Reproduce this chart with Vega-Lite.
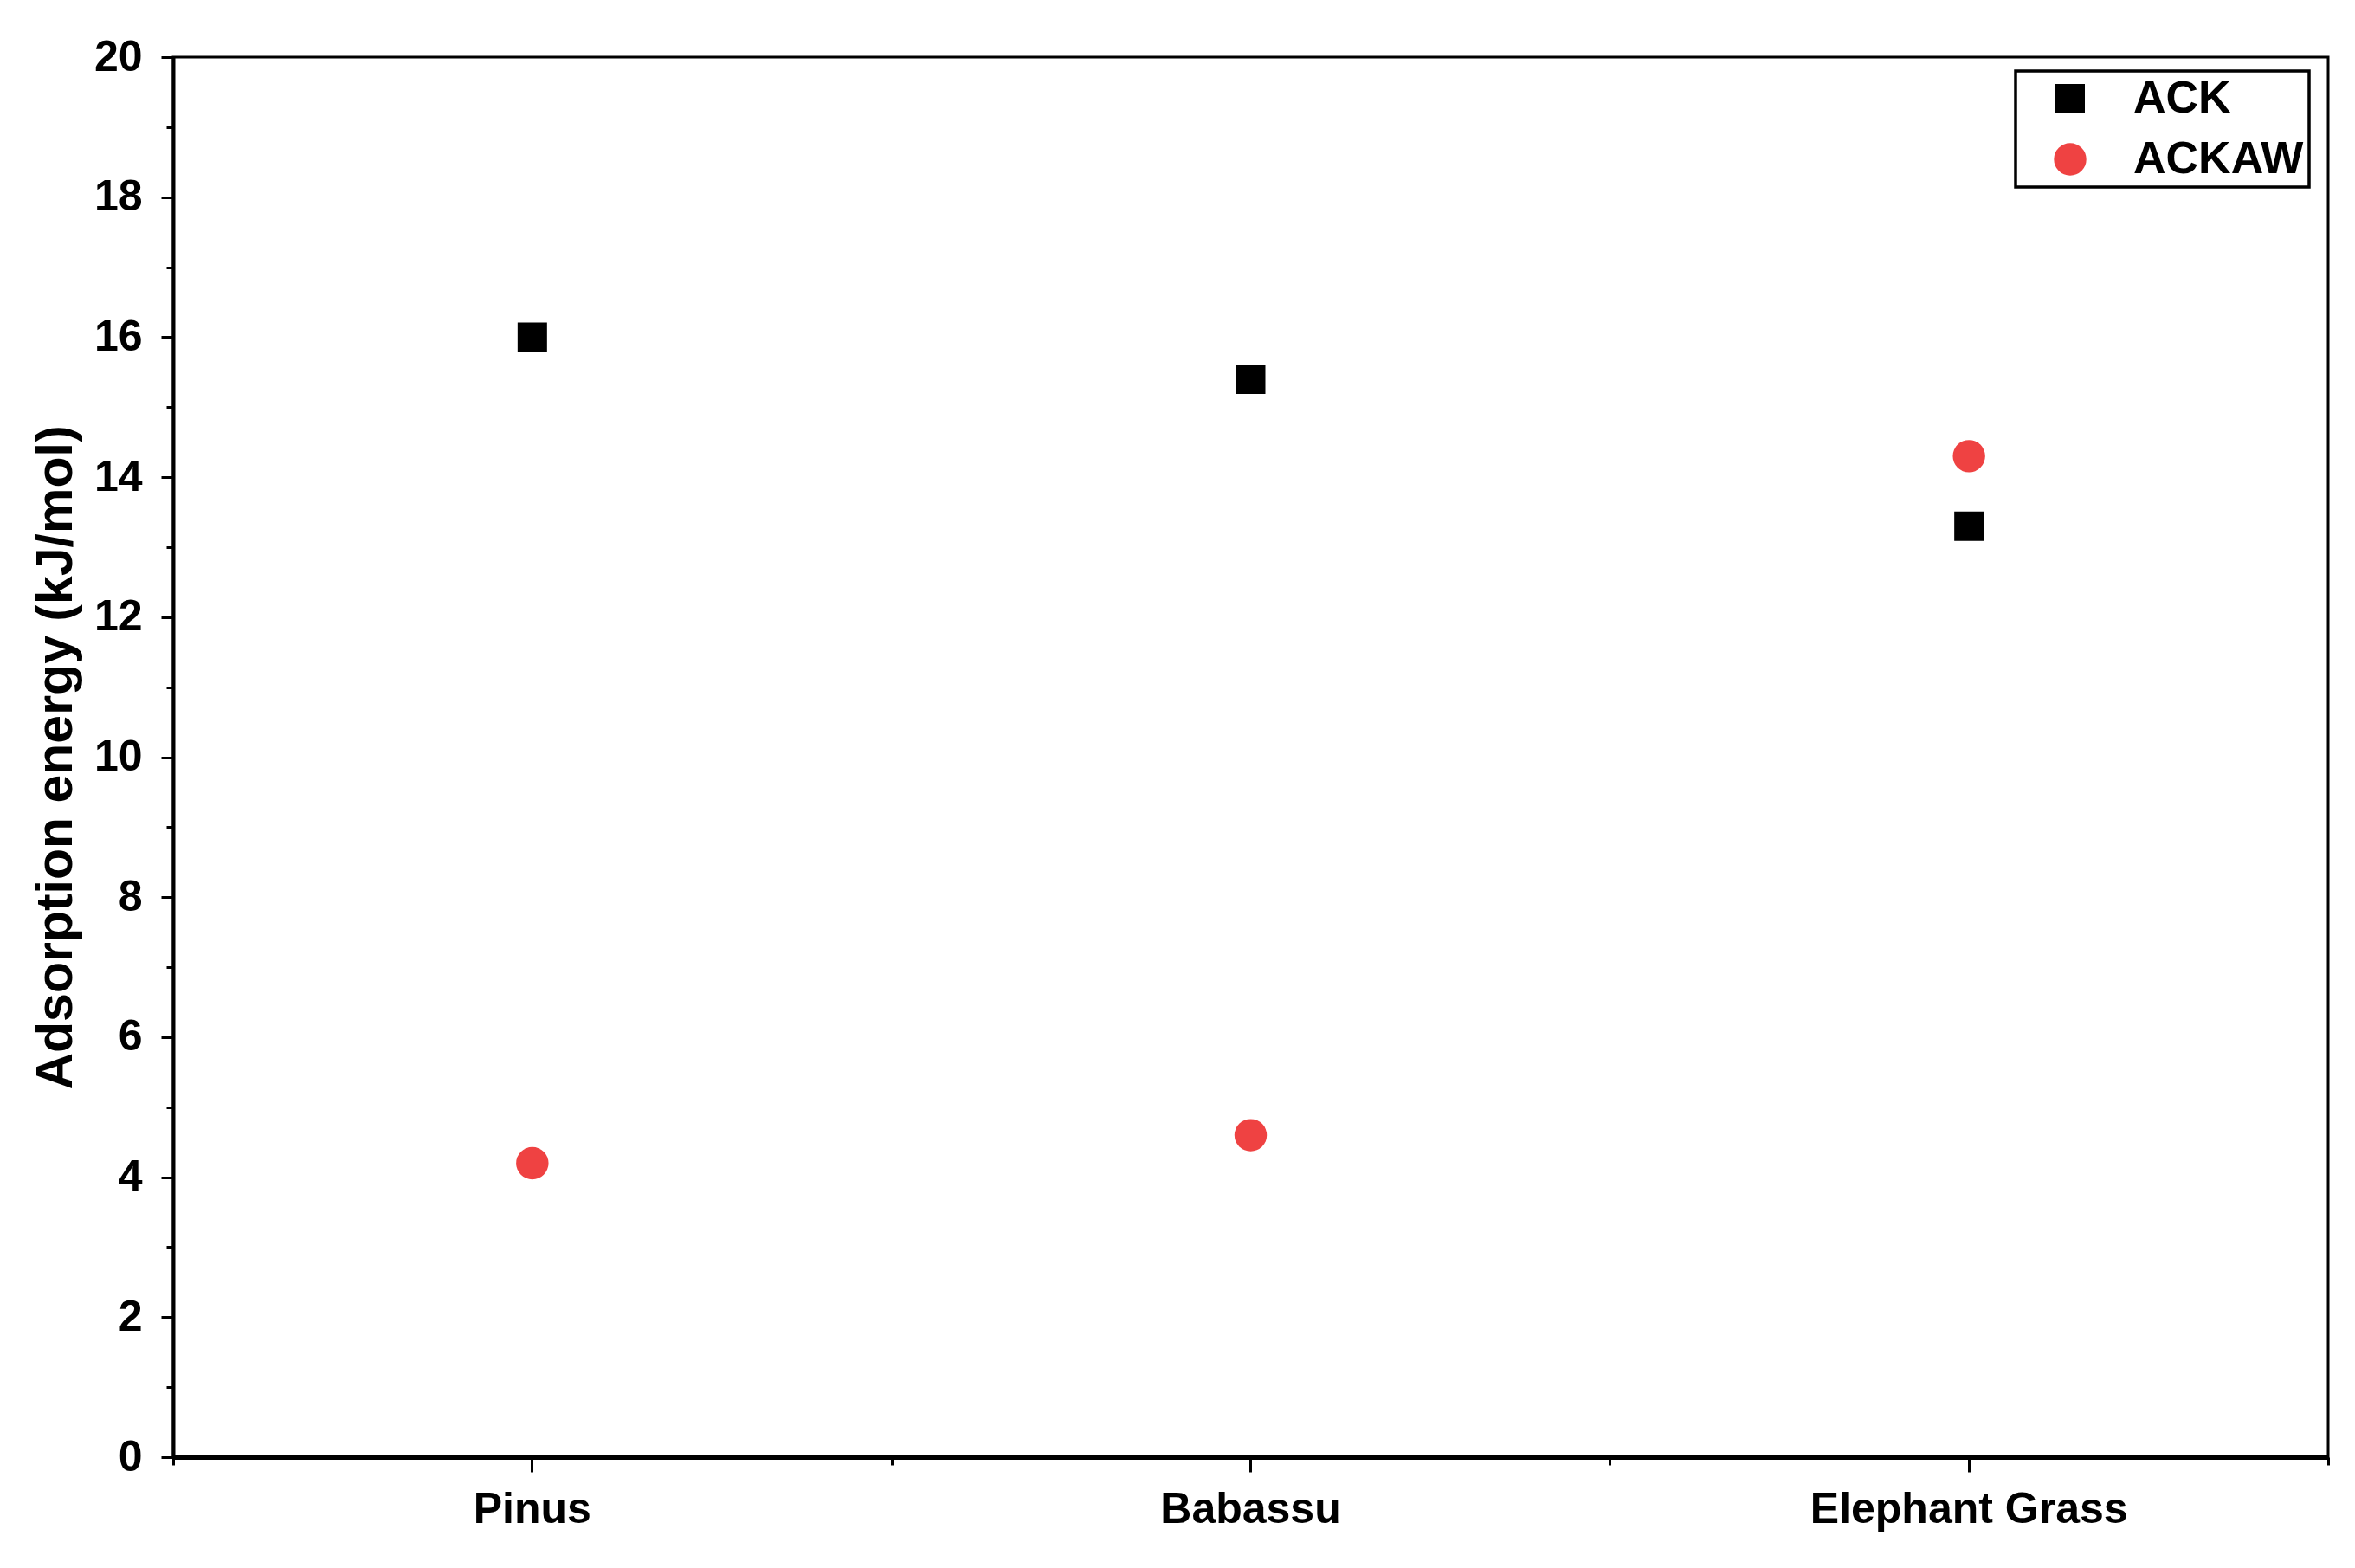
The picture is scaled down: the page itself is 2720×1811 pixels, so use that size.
{
  "$schema": "https://vega.github.io/schema/vega-lite/v6.json",
  "width": 2489,
  "height": 1617,
  "autosize": {"type": "none"},
  "padding": {"left": 200, "top": 66, "right": 31, "bottom": 128},
  "background": "white",
  "data": {
    "values": [
      {"material": "Pinus", "sample": "ACK", "energy": 16.0},
      {"material": "Pinus", "sample": "ACKAW", "energy": 4.2},
      {"material": "Babassu", "sample": "ACK", "energy": 15.4},
      {"material": "Babassu", "sample": "ACKAW", "energy": 4.6},
      {"material": "Elephant Grass", "sample": "ACK", "energy": 13.3},
      {"material": "Elephant Grass", "sample": "ACKAW", "energy": 14.3}
    ]
  },
  "layer": [
    {
      "mark": {"type": "point", "filled": true, "opacity": 1, "strokeWidth": 0},
      "encoding": {
        "x": {
          "field": "material",
          "type": "nominal",
          "sort": ["Pinus", "Babassu", "Elephant Grass"],
          "scale": {"type": "band", "paddingInner": 0, "paddingOuter": 0},
          "axis": {
            "orient": "bottom",
            "title": null,
            "labelAngle": 0,
            "tickSize": 17,
            "tickWidth": 3,
            "domainWidth": 5,
            "labelPadding": 18,
            "labelFontSize": 50,
            "labelLimit": 800
          }
        },
        "y": {
          "field": "energy",
          "type": "quantitative",
          "scale": {"domain": [0, 20], "nice": false},
          "axis": {
            "orient": "left",
            "title": "Adsorption energy (kJ/mol)",
            "values": [0, 2, 4, 6, 8, 10, 12, 14, 16, 18, 20],
            "tickSize": 14,
            "tickWidth": 3,
            "domainWidth": 4,
            "labelPadding": 22,
            "labelFontSize": 50,
            "titleFontSize": 59,
            "titlePadding": 14
          }
        },
        "shape": {
          "field": "sample",
          "type": "nominal",
          "scale": {"domain": ["ACK", "ACKAW"], "range": ["square", "circle"]}
        },
        "color": {
          "field": "sample",
          "type": "nominal",
          "scale": {"domain": ["ACK", "ACKAW"], "range": ["#000000", "#EF4242"]}
        },
        "size": {
          "field": "sample",
          "type": "nominal",
          "scale": {"domain": ["ACK", "ACKAW"], "range": [1156, 1400]}
        }
      }
    },
    {
      "mark": {"type": "point", "opacity": 0},
      "encoding": {
        "x": {
          "field": "material",
          "type": "nominal",
          "sort": ["Pinus", "Babassu", "Elephant Grass"],
          "axis": {
            "orient": "bottom",
            "title": null,
            "labels": false,
            "domain": false,
            "tickBand": "extent",
            "tickSize": 9,
            "tickWidth": 3
          }
        },
        "y": {
          "field": "energy",
          "type": "quantitative",
          "axis": {
            "orient": "left",
            "title": null,
            "labels": false,
            "domain": false,
            "values": [1, 3, 5, 7, 9, 11, 13, 15, 17, 19],
            "tickSize": 8,
            "tickWidth": 3
          }
        }
      }
    }
  ],
  "resolve": {"axis": {"x": "independent", "y": "independent"}},
  "config": {
    "font": "Liberation Sans",
    "view": {"stroke": "#000000", "strokeWidth": 3},
    "axis": {
      "grid": false,
      "domainColor": "#000000",
      "tickColor": "#000000",
      "labelColor": "#000000",
      "titleColor": "#000000",
      "labelFont": "Liberation Sans",
      "titleFont": "Liberation Sans",
      "labelFontWeight": "bold",
      "titleFontWeight": "bold",
      "labelFlush": false,
      "labelOverlap": false,
      "offset": 0
    },
    "legend": {
      "orient": "none",
      "legendX": 2128,
      "legendY": 16,
      "title": null,
      "strokeColor": "#000000",
      "strokeWidth": 3.5,
      "fillColor": "#ffffff",
      "padding": 6,
      "symbolOffset": 31,
      "labelOffset": 47,
      "labelFont": "Liberation Sans",
      "labelFontWeight": "bold",
      "labelFontSize": 52,
      "labelColor": "#000000",
      "labelLimit": 400,
      "symbolStrokeWidth": 0,
      "rowPadding": 18
    }
  }
}
